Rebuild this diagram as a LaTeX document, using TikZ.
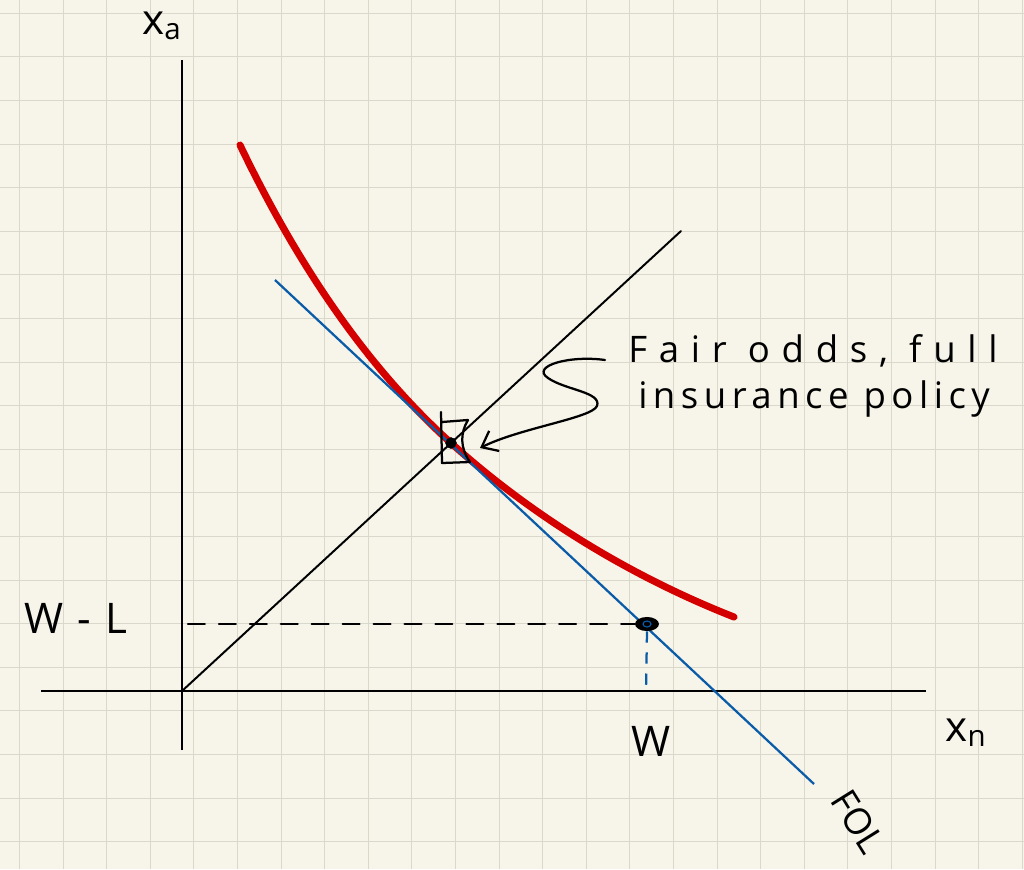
\documentclass[tikz,border=0pt]{standalone}
\usepackage{fontspec}
\setmainfont{Open Sans}
\usepackage{tikz}
\usetikzlibrary{arrows.meta,calc,shapes.geometric}
\definecolor{paper}{HTML}{F7F5EA}
\definecolor{gridline}{HTML}{DAD8CA}
\definecolor{utilred}{HTML}{D40000}
\definecolor{oddsblue}{HTML}{0B5CA8}
\newcommand{\hand}[1]{\fontsize{#1}{#1}\selectfont}

\begin{document}
\begin{tikzpicture}[
    x=0.025cm, y=-0.025cm,
    sheet/.style={line width=0.8pt,draw=gridline},
    axis/.style={line width=2pt,black},
    pen/.style={line width=1.6pt,black,line cap=round,line join=round},
    indiff/.style={line width=5pt,utilred,line cap=round},
    fairodds/.style={line width=1.6pt,oddsblue},
    label/.style={inner sep=0pt,font=\hand{30}},
    dot/.style={circle,fill=black,inner sep=0pt,minimum size=8pt},
    bigdot/.style={ellipse,fill=black,inner sep=0pt,minimum width=17pt,minimum height=10pt}
]
\useasboundingbox[fill=paper] (0,0) rectangle (1024,869);
\foreach \i in {0,...,23}
    \draw[sheet] ({19.5+43.6*\i},0) -- ++(0,869);
\foreach \j in {0,...,19}
    \draw[sheet] (0,{13.3+43.6*\j}) -- ++(1024,0);

\coordinate (O)      at (182,691);
\coordinate (ytop)   at (182,60);
\coordinate (ybot)   at (182,750);
\coordinate (xleft)  at (41,691);
\coordinate (xright) at (926,691);
\coordinate (cert)   at (681,231);
\coordinate (fol1)   at (275,280);
\coordinate (fol2)   at (814,784);
\coordinate (wl)     at (188,624);
\coordinate (wfoot)  at (646,691);
\coordinate (swirl)  at (605,360);
\coordinate (tip)    at (480,448);
\coordinate (ic1)    at (240,145);
\coordinate (ic2)    at (734,617);

\draw[axis] (ybot) -- (ytop);
\draw[axis] (xleft) -- (xright);
\draw[pen,line width=1.4pt] (O) -- (cert);

\node[dot] (tan) at (451,443) {};
\draw[indiff] (ic1) .. controls (300,270) and (370,370) .. (tan.center)
    .. controls (540,523) and (640,580) .. (ic2);
\draw[fairodds] (fol1) -- (fol2);

\node[dot]    at (tan) {};
\node[bigdot] (end) at (647,624) {};
\draw[oddsblue,line width=0.8pt] (end) ellipse [x radius=4, y radius=3];

\draw[pen,dash pattern=on 12pt off 10pt] (wl) -- (end.west);
\draw[oddsblue,line width=1.6pt,dash pattern=on 8pt off 7pt] (end.south) -- (wfoot);

\begin{scope}[shift={(tan)}]
    \draw[pen] (-10,-31) -- (-9,20) -- (19,19)
        .. controls (9,5) and (9,-10) .. (17,-23) -- (-9,-21);
\end{scope}

\draw[pen,-{Straight Barb[length=10pt,width=16pt]}] (swirl)
    .. controls (570,355) and (530,366) .. (548,378)
    .. controls (565,390) and (602,392) .. (597,406)
    .. controls (592,418) and (520,428) .. (tip);

\node[label] (xa)   at (162,26)  {x\textsubscript{a}};
\node[label] (wmL)  at (76,618)  {W\,\,-\,\,L};
\node[label] (w)    at (651,741) {W};
\node[label] (xn)   at (966,733) {x\textsubscript{n}};
\node[label,rotate=-58,font=\hand{26}] (fol) at (858,822) {FOL};
\node[label,anchor=north west,font=\hand{26}\addfontfeatures{LetterSpace=32}]
    (note1) at (628,334) {Fair odds, full};
\node[label,anchor=north west,font=\hand{26}\addfontfeatures{LetterSpace=15}]
    (note2) at (638,380) {insurance policy};
\end{tikzpicture}
\end{document}
